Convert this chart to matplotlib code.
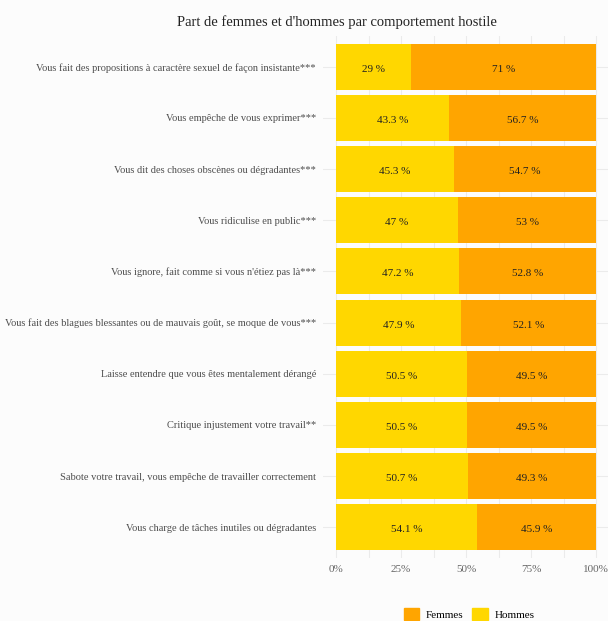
import numpy as np
import matplotlib.pyplot as plt
from matplotlib.patches import Patch

plt.rcParams['font.family'] = ['Liberation Serif', 'DejaVu Serif']

# Données
comportements = [
    "Vous fait des propositions à caractère sexuel de façon insistante***",
    "Vous empêche de vous exprimer***",
    "Vous dit des choses obscènes ou dégradantes***",
    "Vous ridiculise en public***",
    "Vous ignore, fait comme si vous n'étiez pas là***",
    "Vous fait des blagues blessantes ou de mauvais goût, se moque de vous***",
    "Laisse entendre que vous êtes mentalement dérangé",
    "Critique injustement votre travail**",
    "Sabote votre travail, vous empêche de travailler correctement",
    "Vous charge de tâches inutiles ou dégradantes",
]
hommes = [29, 43.3, 45.3, 47, 47.2, 47.9, 50.5, 50.5, 50.7, 54.1]
femmes = [71, 56.7, 54.7, 53, 52.8, 52.1, 49.5, 49.5, 49.3, 45.9]

col_h = '#FFD700'
col_f = '#FFA500'
bg = '#FCFCFC'

fig = plt.figure(figsize=(6.08, 6.21), dpi=100, facecolor=bg)
ax = fig.add_axes([323 / 608, 1 - 558 / 621, 286 / 608, 522 / 621], facecolor=bg)

y = np.arange(len(comportements))
h = np.array(hommes) / 100
f = np.array(femmes) / 100

ax.barh(y, h, height=0.9, color=col_h, zorder=2)
ax.barh(y, f, left=h, height=0.9, color=col_f, zorder=2)

for i in range(len(y)):
    ax.text(h[i] / 2, y[i] + 0.03, f"{hommes[i]:g} %", ha='center', va='center_baseline',
            fontsize=8, color='#222222', zorder=3)
    ax.text(h[i] + f[i] / 2, y[i] + 0.03, f"{femmes[i]:g} %", ha='center', va='center_baseline',
            fontsize=8, color='#222222', zorder=3)

ax.set_xlim(-0.05, 1.05)
ax.set_ylim(len(y) - 0.4, -0.6)
ax.set_xticks([0, 0.25, 0.5, 0.75, 1])
ax.set_xticklabels(['0%', '25%', '50%', '75%', '100%'])
ax.set_xticks([0.125, 0.375, 0.625, 0.875], minor=True)
ax.set_yticks(y)
ax.set_yticklabels(comportements)
ax.tick_params(axis='y', length=0, labelsize=7.5, labelcolor='#4d4d4d', pad=5)
ax.tick_params(axis='x', length=0, labelsize=8, labelcolor='#666666', pad=5)
ax.tick_params(axis='x', which='minor', length=0)
ax.grid(True, which='both', color='#EBEBEB', linewidth=0.8, zorder=0)
for s in ax.spines.values():
    s.set_visible(False)

fig.text(337 / 608, 1 - 22.5 / 621, "Part de femmes et d'hommes par comportement hostile",
         ha='center', va='center', fontsize=10.5, color='#222222')

handles = [Patch(color=col_f, label='Femmes'), Patch(color=col_h, label='Hommes')]
fig.legend(handles=handles, loc='center', bbox_to_anchor=(469 / 608, 1 - 614 / 621),
           ncol=2, frameon=False, fontsize=8, handlelength=1.4, handleheight=1.4,
           columnspacing=0.8, handletextpad=0.6)

fig.savefig('out.png', dpi=100, facecolor=bg)
